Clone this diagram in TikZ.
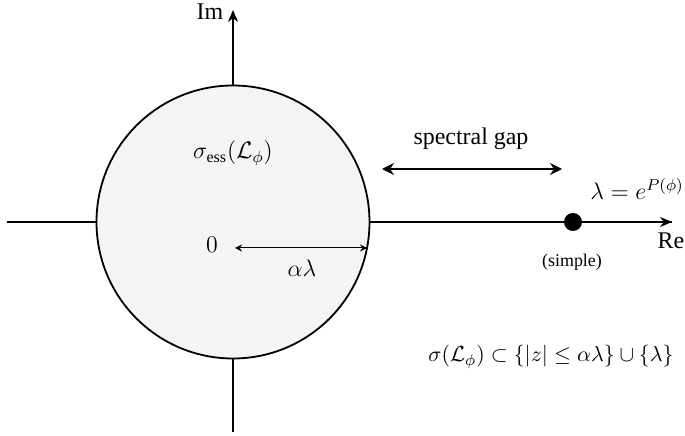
\documentclass[tikz,border=0pt,12pt]{standalone}
\usepackage{fontspec}
\setmainfont{Liberation Serif}
\usetikzlibrary{arrows.meta, positioning}
\tikzstyle{axis} = [line width=0.9bp, -{Stealth[length=6pt, width=5pt]}]
\tikzstyle{disk} = [line width=0.9bp, fill=black!4]
\tikzstyle{gaparrow} = [line width=1.3bp, {Stealth[length=6pt, width=6pt]}-{Stealth[length=6pt, width=6pt]}]
\tikzstyle{radarrow} = [line width=0.5bp, {Stealth[length=3.5pt, width=3.5pt]}-{Stealth[length=3.5pt, width=3.5pt]}]
\tikzstyle{eigdot} = [circle, fill=black, inner sep=0pt, minimum size=9bp]
\tikzstyle{txt} = [inner sep=1pt]

\begin{document}
\begin{tikzpicture}[x=0.5bp, y=-0.5bp, font=\fontsize{12}{14}\selectfont]
    \useasboundingbox (0,0) rectangle (685,436);

    % Axes
    \coordinate (origin) at (233,222);
    \coordinate (xmin) at (7,222);
    \coordinate (xmax) at (672,222);
    \coordinate (ymin) at (233,432);
    \coordinate (ymax) at (233,10);
    \draw [line width=0.9bp] (xmin) -- (xmax);
    \draw [axis] (origin) -- (xmax);
    \draw [axis] (ymin) -- (ymax);
    \node (im) [txt] at (210,12) {Im};
    \node (re) [txt] at (671,241) {Re};

    % Essential spectrum disk
    \draw [disk] (origin) circle (136.5);
    \node (ess) [txt] at (233,153) {$\sigma_{\mathrm{ess}}(\mathcal{L}_\phi)$};
    \node (zero) [txt] at (212,245) {$0$};
    \coordinate (rad0) at (235,248);
    \coordinate (rad1) at (367,248);
    \draw [radarrow] (rad0) -- (rad1);
    \node (radlab) [txt] at (302,268) {$\alpha\lambda$};

    % Spectral gap
    \coordinate (gapl) at (382,169);
    \coordinate (gapr) at (562,169);
    \draw [gaparrow] (gapl) -- (gapr);
    \node (gaplab) [txt] at (471,139) {spectral gap};

    % Leading eigenvalue
    \node (lam) [eigdot] at (573,222) {};
    \node (lamlab) [txt] at (637,189) {$\lambda = e^{P(\phi)}$};
    \node (simple) [txt, font=\fontsize{9}{11}\selectfont] at (572,262) {(simple)};

    % Spectrum inclusion
    \node (spec) [txt, font=\fontsize{11}{13}\selectfont] at (551,357) {$\sigma(\mathcal{L}_\phi) \subset \{|z| \le \alpha\lambda\} \cup \{\lambda\}$};
\end{tikzpicture}
\end{document}
